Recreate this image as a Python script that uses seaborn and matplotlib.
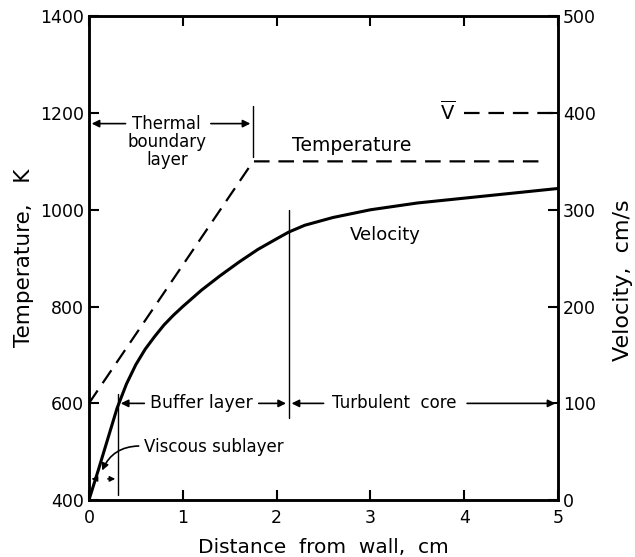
import numpy as np
import pandas as pd
import matplotlib
matplotlib.use("Agg")
import matplotlib.pyplot as plt
import seaborn as sns

# ---- data ----
temp_x = [0.0, 1.75, 4.88]
temp_k = [600, 1100, 1100]

vel_x = [0.0, 0.1, 0.2, 0.3, 0.4, 0.5, 0.6, 0.7, 0.8, 0.9, 1.0, 1.2, 1.4, 1.6,
         1.8, 2.0, 2.13, 2.3, 2.6, 3.0, 3.5, 4.0, 4.5, 5.0]
vel_cms = [0, 31, 63, 95, 120, 140, 156, 169, 181, 191, 200, 217, 232, 246,
           259, 270, 277, 284, 292, 300, 307, 312, 317, 322]

vbar_x = [4.0, 5.0]
vbar_v = [400, 400]

x_ticks = [0, 1, 2, 3, 4, 5]
t_ticks = [400, 600, 800, 1000, 1200, 1400]
v_ticks = [0, 100, 200, 300, 400, 500]

# zone boundaries (cm)
thermal_edge = 1.75
viscous_edge = 0.31
buffer_edge = 2.13

sns.set_style("ticks")
plt.rcParams['font.family'] = ['DejaVu Sans']
plt.rcParams['text.color'] = 'black'
plt.rcParams['axes.labelcolor'] = 'black'
plt.rcParams['xtick.color'] = 'black'
plt.rcParams['ytick.color'] = 'black'
plt.rcParams['lines.solid_joinstyle'] = 'round'

fig = plt.figure(figsize=(6.35, 5.57), dpi=100)
ax = fig.add_axes([0.140, 0.102, 0.739, 0.869])
ax2 = ax.twinx()

temp_df = pd.DataFrame({"x": temp_x, "T": temp_k})
vel_df = pd.DataFrame({"x": vel_x, "v": vel_cms})
vbar_df = pd.DataFrame({"x": vbar_x, "v": vbar_v})

sns.lineplot(data=temp_df, x="x", y="T", ax=ax, color="black", lw=1.6,
             linestyle=(0, (7, 4)), sort=False)
sns.lineplot(data=vel_df, x="x", y="v", ax=ax2, color="black", lw=2.2, sort=False)
sns.lineplot(data=vbar_df, x="x", y="v", ax=ax2, color="black", lw=1.6,
             linestyle=(0, (7, 4)), sort=False)

ax.set_xlim(0, 5)
ax.set_ylim(400, 1400)
ax2.set_ylim(0, 500)
ax.set_xticks(x_ticks)
ax.set_xticklabels(["0", "1", "2", "3", "4", "5"])
ax.set_yticks(t_ticks)
ax2.set_yticks(v_ticks)

for a in (ax, ax2):
    for s in a.spines.values():
        s.set_visible(True)
        s.set_linewidth(1.8)
        s.set_color("black")
ax.tick_params(axis="both", direction="in", length=7, width=1.5, labelsize=12.5,
               top=True, labeltop=False, colors="black")
ax2.tick_params(axis="y", direction="in", length=7, width=1.5, labelsize=12.5,
                colors="black")
ax.tick_params(axis="x", pad=6)

ax.set_xlabel("Distance  from  wall,  cm", fontsize=14.5, labelpad=8)
ax.set_ylabel("Temperature,   K", fontsize=15.5, labelpad=4)
ax2.set_ylabel("Velocity,  cm/s", fontsize=16)
ax2.yaxis.set_label_coords(1.117, 0.455)

# ---- annotations ----
tfs = 12
arrow_kw = dict(arrowstyle="-|>", color="black", lw=1.2, mutation_scale=11)

# thermal boundary layer
ax.plot([thermal_edge, thermal_edge], [1110, 1215], color="black", lw=1.0)
ax.annotate("", xy=(0, 1178), xytext=(0.42, 1178), arrowprops=arrow_kw)
ax.annotate("", xy=(thermal_edge, 1178), xytext=(1.27, 1178), arrowprops=arrow_kw)
ax.text(0.83, 1196, "Thermal\nboundary\nlayer", ha="center", va="top",
        fontsize=tfs, linespacing=1.0)

ax.text(2.8, 1132, "Temperature", ha="center", va="center", fontsize=13.5)
ax2.text(3.16, 274, "Velocity", ha="center", va="center", fontsize=13)
ax2.text(3.82, 401, r"$\overline{\mathrm{V}}$", ha="center", va="center", fontsize=14)

# buffer / turbulent
ax2.plot([buffer_edge, buffer_edge], [85, 300], color="black", lw=1.0)
ax2.plot([viscous_edge, viscous_edge], [5, 110], color="black", lw=1.0)
ax2.annotate("", xy=(viscous_edge, 100), xytext=(0.62, 100), arrowprops=arrow_kw)
ax2.annotate("", xy=(buffer_edge, 100), xytext=(1.78, 100), arrowprops=arrow_kw)
ax2.text(1.2, 100, "Buffer layer", ha="center", va="center", fontsize=12.5)
ax2.annotate("", xy=(buffer_edge, 100), xytext=(2.53, 100), arrowprops=arrow_kw)
ax2.annotate("", xy=(5.0, 100), xytext=(4.0, 100), arrowprops=arrow_kw)
ax2.text(3.25, 100, "Turbulent  core", ha="center", va="center", fontsize=12)

# viscous sublayer
small_kw = dict(arrowstyle="-|>", color="black", lw=1.0, mutation_scale=8)
ax2.annotate("", xy=(0.0, 22), xytext=(0.09, 22), arrowprops=small_kw)
ax2.annotate("", xy=(viscous_edge, 22), xytext=(0.17, 22), arrowprops=small_kw)
ax2.text(0.59, 55, "Viscous sublayer", ha="left", va="center", fontsize=12)
ax2.annotate("", xy=(0.13, 28), xytext=(0.56, 56),
             arrowprops=dict(arrowstyle="-|>", color="black", lw=1.2, mutation_scale=10,
                             connectionstyle="arc3,rad=0.35"))

fig.savefig("out.png", dpi=100)
